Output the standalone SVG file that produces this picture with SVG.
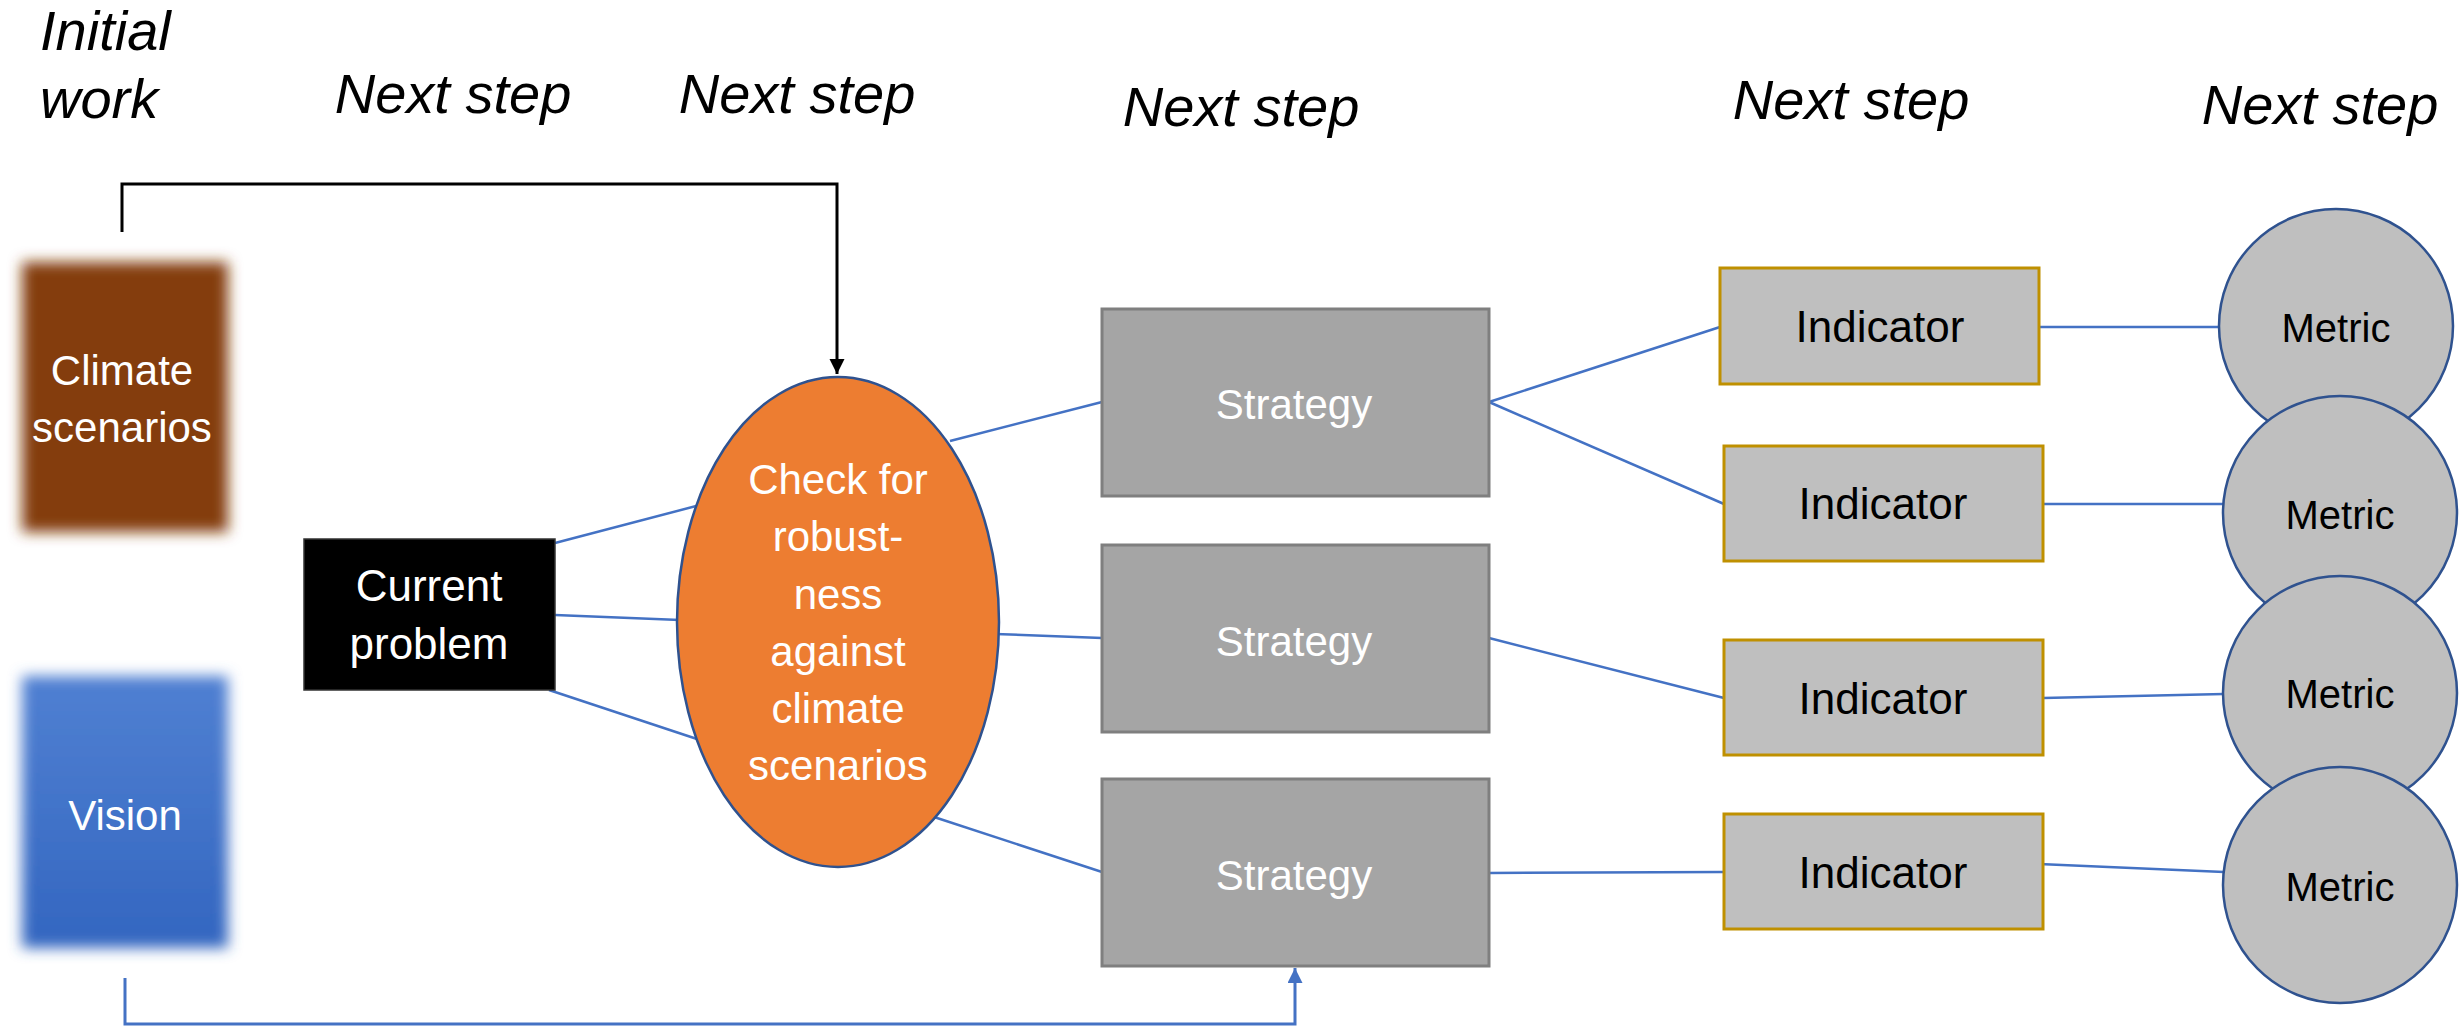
<svg xmlns="http://www.w3.org/2000/svg" width="2464" height="1026" viewBox="0 0 2464 1026">
<style>
.hdr{font-family:"Liberation Sans",Arial,sans-serif;font-style:italic;font-size:56px;fill:#000}
.wt{font-family:"Liberation Sans",Arial,sans-serif;font-size:42px;fill:#fff;text-anchor:middle}
.bt{font-family:"Liberation Sans",Arial,sans-serif;fill:#000;text-anchor:middle}
.con{fill:none;stroke:#4472C4;stroke-width:2.5}
.strat{fill:#A5A5A5;stroke:#7F7F7F;stroke-width:3}
.ind{fill:#BFBFBF;stroke:#BF9000;stroke-width:3}
.met{fill:#BFBFBF;stroke:#2F528F;stroke-width:2.5}
</style>
<defs>
<filter id="blur" x="-20%" y="-20%" width="140%" height="140%"><feGaussianBlur stdDeviation="7"/></filter>
<linearGradient id="vg" x1="0" y1="0" x2="0" y2="1"><stop offset="0" stop-color="#5080D2"/><stop offset="1" stop-color="#3366C0"/></linearGradient>
<marker id="ab" markerUnits="userSpaceOnUse" markerWidth="16" markerHeight="16" refX="15" refY="7.5" orient="auto"><path d="M0,0 L15,7.5 L0,15 z" fill="#000"/></marker>
<marker id="au" markerUnits="userSpaceOnUse" markerWidth="16" markerHeight="16" refX="15" refY="7.5" orient="auto"><path d="M0,0 L15,7.5 L0,15 z" fill="#4472C4"/></marker>
</defs>
<rect width="2464" height="1026" fill="#fff"/>
<g id="headers">
<text class="hdr" x="40" y="50">Initial</text>
<text class="hdr" x="40" y="118">work</text>
<text class="hdr" x="453" y="113" text-anchor="middle">Next step</text>
<text class="hdr" x="797" y="113" text-anchor="middle">Next step</text>
<text class="hdr" x="1241" y="126" text-anchor="middle">Next step</text>
<text class="hdr" x="1851" y="119" text-anchor="middle">Next step</text>
<text class="hdr" x="2320" y="124" text-anchor="middle">Next step</text>
</g>
<g id="connectors">
<path class="con" d="M555,543 L700,505"/>
<path class="con" d="M555,615 L680,620"/>
<path class="con" d="M549,690 L700,740"/>
<path class="con" d="M950,441 L1102,402"/>
<path class="con" d="M995,634 L1102,638"/>
<path class="con" d="M934,817 L1102,872"/>
<path class="con" d="M1489,402 L1720,327"/>
<path class="con" d="M1489,402 L1724,504"/>
<path class="con" d="M1489,638 L1724,698"/>
<path class="con" d="M1489,873 L1724,872"/>
<path class="con" d="M2039,327 L2220,327"/>
<path class="con" d="M2043,504 L2224,504"/>
<path class="con" d="M2043,698 L2224,694"/>
<path class="con" d="M2039,864 L2224,872"/>
<path d="M122,232 L122,184 L837,184 L837,374" fill="none" stroke="#000" stroke-width="3" marker-end="url(#ab)"/>
<path d="M125,978 L125,1024 L1295,1024 L1295,968" fill="none" stroke="#4472C4" stroke-width="3" marker-end="url(#au)"/>
</g>
<g id="climate">
<rect x="22" y="262" width="206" height="270" fill="#843C0C" filter="url(#blur)"/>
<text class="wt" x="122" y="385">Climate</text>
<text class="wt" x="122" y="442">scenarios</text>
</g>
<g id="vision">
<rect x="22" y="676" width="206" height="272" fill="url(#vg)" filter="url(#blur)"/>
<text class="wt" x="125" y="830">Vision</text>
</g>
<g id="current">
<rect x="304" y="539" width="251" height="151" fill="#000" stroke="#333" stroke-width="1.5"/>
<text class="wt" x="429" y="601" style="font-size:44px">Current</text>
<text class="wt" x="429" y="659" style="font-size:44px">problem</text>
</g>
<g id="check">
<ellipse cx="838" cy="622" rx="161" ry="245" fill="#ED7D31" stroke="#2F528F" stroke-width="2.5"/>
<text class="wt" x="838" y="494">Check for</text>
<text class="wt" x="838" y="551">robust-</text>
<text class="wt" x="838" y="609">ness</text>
<text class="wt" x="838" y="666">against</text>
<text class="wt" x="838" y="723">climate</text>
<text class="wt" x="838" y="780">scenarios</text>
</g>
<g id="strategy1"><rect class="strat" x="1102" y="309" width="387" height="187"/><text class="wt" x="1294" y="419">Strategy</text></g>
<g id="strategy2"><rect class="strat" x="1102" y="545" width="387" height="187"/><text class="wt" x="1294" y="656">Strategy</text></g>
<g id="strategy3"><rect class="strat" x="1102" y="779" width="387" height="187"/><text class="wt" x="1294" y="890">Strategy</text></g>
<g id="indicator1"><rect class="ind" x="1720" y="268" width="319" height="116"/><text class="bt" x="1880" y="342" font-size="44">Indicator</text></g>
<g id="indicator2"><rect class="ind" x="1724" y="446" width="319" height="115"/><text class="bt" x="1883" y="519" font-size="44">Indicator</text></g>
<g id="indicator3"><rect class="ind" x="1724" y="640" width="319" height="115"/><text class="bt" x="1883" y="714" font-size="44">Indicator</text></g>
<g id="indicator4"><rect class="ind" x="1724" y="814" width="319" height="115"/><text class="bt" x="1883" y="888" font-size="44">Indicator</text></g>
<g id="metric1"><ellipse class="met" cx="2336" cy="326" rx="117" ry="117"/><text class="bt" x="2336" y="342" font-size="40">Metric</text></g>
<g id="metric2"><ellipse class="met" cx="2340" cy="513" rx="117" ry="117"/><text class="bt" x="2340" y="529" font-size="40">Metric</text></g>
<g id="metric3"><ellipse class="met" cx="2340" cy="693" rx="117" ry="117"/><text class="bt" x="2340" y="708" font-size="40">Metric</text></g>
<g id="metric4"><ellipse class="met" cx="2340" cy="885" rx="117" ry="118"/><text class="bt" x="2340" y="901" font-size="40">Metric</text></g>
</svg>
